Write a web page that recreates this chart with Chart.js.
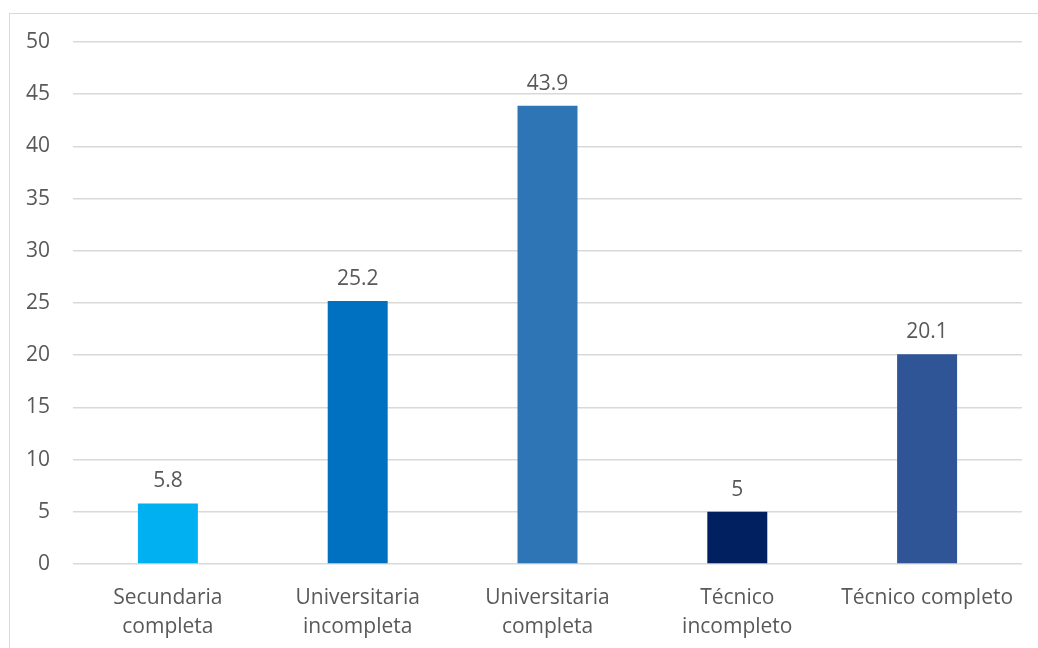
<!DOCTYPE html>
<html>
<head>
<meta charset="utf-8">
<script src="https://cdn.jsdelivr.net/npm/chart.js@4/dist/chart.umd.min.js"></script>
<style>
  html, body { margin: 0; padding: 0; background: #fff; }
  #frame {
    position: absolute; left: 9px; top: 13px;
    width: 1040px; height: 650px;
    border: 1px solid #d9d9d9;
  }
  #box { position: absolute; left: 0; top: 0; width: 1028px; height: 634px; }
</style>
</head>
<body>
<div id="frame"><div id="box"><canvas id="myChart"></canvas></div></div>
<script>
// constants
const FONT_FAMILY = "'Open Sans', sans-serif";
const FONT_SIZE = 21;
const TEXT_COLOR = "#595959";
const GRID_COLOR = "#d9d9d9";

// data
const labels = [
  ["Secundaria", "completa"],
  ["Universitaria", "incompleta"],
  ["Universitaria", "completa"],
  ["Técnico", "incompleto"],
  "Técnico completo"
];
const values = [5.8, 25.2, 43.9, 5, 20.1];
const barColors = ["#00b0f0", "#0070c0", "#2e75b6", "#002060", "#2f5597"];
const yMin = 0, yMax = 50, yStep = 5;

// draws the value above each bar
const valueLabels = {
  id: "valueLabels",
  afterDatasetsDraw(chart) {
    const ctx = chart.ctx;
    const meta = chart.getDatasetMeta(0);
    ctx.save();
    ctx.font = FONT_SIZE + "px " + FONT_FAMILY;
    ctx.fillStyle = TEXT_COLOR;
    ctx.textAlign = "center";
    ctx.textBaseline = "alphabetic";
    meta.data.forEach((bar, i) => {
      ctx.fillText(String(values[i]), bar.x, bar.y - 16);
    });
    ctx.restore();
  }
};

var ctx = document.getElementById("myChart").getContext("2d");
var chart = new Chart(ctx, {
  type: "bar",
  data: {
    labels: labels,
    datasets: [{
      data: values,
      backgroundColor: barColors,
      barPercentage: 0.316,
      categoryPercentage: 1.0
    }]
  },
  plugins: [valueLabels],
  options: {
    responsive: true,
    maintainAspectRatio: false,
    animation: false,
    layout: { padding: { top: 28, right: 16, left: 0, bottom: 0 } },
    plugins: {
      legend: { display: false },
      tooltip: { enabled: false }
    },
    scales: {
      x: {
        grid: { display: false, drawTicks: false },
        border: { display: false },
        ticks: {
          color: TEXT_COLOR,
          padding: 19,
          maxRotation: 0,
          autoSkip: false,
          font: { family: FONT_FAMILY, size: FONT_SIZE, lineHeight: 1.4 }
        },
        afterFit(scale) { scale.height = 84; }
      },
      y: {
        min: yMin,
        max: yMax,
        grid: { color: GRID_COLOR, lineWidth: 1.5, drawTicks: false },
        border: { display: false },
        ticks: {
          stepSize: yStep,
          color: TEXT_COLOR,
          padding: 23,
          font: { family: FONT_FAMILY, size: FONT_SIZE }
        },
        afterFit(scale) {
          // fixed axis width; the outer layout padding sets the top gap
          scale.width = 63;
          scale.paddingTop = 0;
          scale.paddingBottom = 0;
        }
      }
    }
  }
});
</script>
</body>
</html>
